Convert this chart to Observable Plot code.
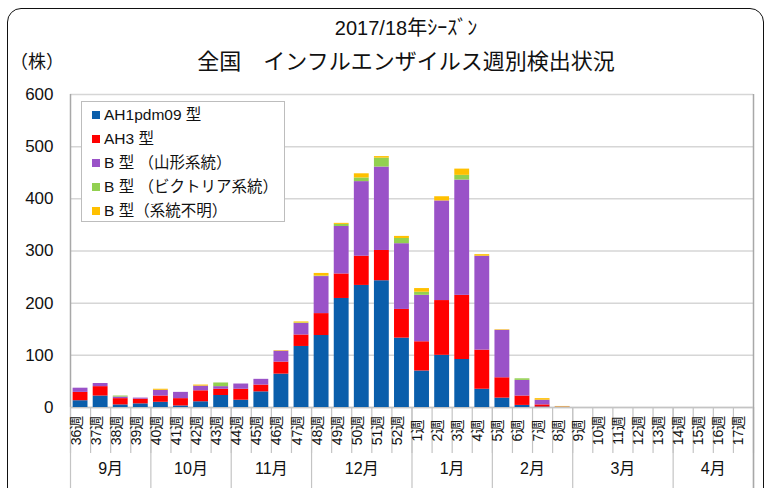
<!DOCTYPE html>
<html><head><meta charset="utf-8">
<script src="https://cdn.jsdelivr.net/npm/d3@7"></script>
<script src="https://cdn.jsdelivr.net/npm/@observablehq/plot@0.6"></script>
<style>
body{margin:0;background:#fff;}
#wrap{position:relative;width:769px;height:488px;overflow:hidden;font-family:"Liberation Sans",Arial,"Noto Sans CJK JP",sans-serif;color:#111;}
#frame{position:absolute;left:7px;top:8px;width:757px;height:540px;border:1.5px solid #111;border-radius:14px;box-sizing:border-box;}
#chart{position:absolute;left:0;top:0;}
.t{position:absolute;white-space:pre;}
#t1{left:106px;width:600px;text-align:center;top:14px;font-size:20px;line-height:28px;}
#t2{left:106px;width:600px;text-align:center;top:48px;font-size:22px;line-height:28px;}
#unit{left:10px;top:49px;font-size:18px;line-height:26px;}
#legend{position:absolute;left:81px;top:101px;width:204px;height:121px;background:#fff;border:1px solid #bdbdbd;box-sizing:border-box;}
.item{position:absolute;left:10px;height:20px;line-height:20px;font-size:15.5px;white-space:pre;}
.sw{display:inline-block;width:8px;height:8px;margin-right:4px;vertical-align:middle;position:relative;top:-1px;}
</style></head>
<body>
<div id="wrap">
  <div id="frame"></div>
  <div id="chart"></div>
  <div class="t" id="t1">2017/18年ｼｰｽﾞﾝ</div>
  <div class="t" id="t2">全国　インフルエンザイルス週別検出状況</div>
  <div class="t" id="unit">（株）</div>
  <div id="legend"></div>
</div>
<script>
const weeks = ["36週","37週","38週","39週","40週","41週","42週","43週","44週","45週","46週","47週","48週","49週","50週","51週","52週",
  "1週","2週","3週","4週","5週","6週","7週","8週","9週","10週","11週","12週","13週","14週","15週","16週","17週"];
const ah1  = [13,22,5,7,10,3,11,23,14,30,64,117,138,209,234,243,133, 70,100,92,35,18,4,1,0, 0,0,0,0,0,0,0,0,0];
const ah3  = [16,18,12,9,12,14,21,12,21,13,23,22,42,47,56,58,55, 56,105,123,75,39,18,4,0, 0,0,0,0,0,0,0,0,0];
const bYam = [8,6,3,2,11,12,9,5,10,11,21,22,71,91,143,160,126, 89,191,221,180,91,30,9,1, 0,0,0,0,0,0,0,0,0];
const bVic = [0,0,2,0,0,0,0,7,0,0,0,1,1,4,7,17,10, 6,0,9,0,0,3,0,0, 0,0,0,0,0,0,0,0,0];
const bUnk = [0,0,0,0,2,0,2,0,0,0,1,2,5,2,8,3,4, 7,8,12,3,1,0,3,1, 0,0,0,0,0,0,0,0,0];
const types = ["AH1pdm09 型","AH3 型","B 型 （山形系統）","B 型 （ビクトリア系統）","B 型（系統不明）"];
const colors = ["#0A5EAB","#FF0000","#9A52C8","#92D050","#FFC000"];
const months = ["9月","10月","11月","12月","1月","2月","3月","4月"];
const monthWeeks = [4,4,4,5,4,4,5,4];
const yTicks = [0,100,200,300,400,500,600];

const series = [ah1, ah3, bYam, bVic, bUnk];
const data = weeks.flatMap((w, i) => types.map((t, k) => ({i, week: w, type: t, value: series[k][i]})));
let s = 0;
const monthRows = months.map((m, k) => { const r = {month: m, start: s, end: s + monthWeeks[k]}; s += monthWeeks[k]; return r; });
const weekBounds = d3.range(weeks.length + 1).map(j => j - 0.5);
const monthBounds = [-0.5, ...monthRows.map(r => r.end - 0.5)];

const plot = Plot.plot({
  width: 769, height: 488,
  marginTop: 94, marginBottom: 81, marginLeft: 70, marginRight: 16,
  style: {background: "transparent", fontFamily: '"Liberation Sans", Arial, "Noto Sans CJK JP", sans-serif', fontSize: "17px", color: "#111", overflow: "visible"},
  x: {type: "linear", domain: [-0.5, weeks.length - 0.5], axis: null},
  y: {domain: [0, 600], axis: null},
  color: {domain: types, range: colors},
  marks: [
    Plot.gridY(yTicks, {stroke: "#d6d6d6", strokeOpacity: 1, strokeWidth: 1.5}),
    Plot.axisY(yTicks, {tickSize: 0, tickPadding: 17, fontSize: 17, fill: "#111", label: null}),
    Plot.ruleX(weekBounds, {x: d => d, insetTop: 313, insetBottom: -46, stroke: "#c4c4c4", strokeWidth: 1.2}),
    Plot.ruleX(monthBounds, {x: d => d, insetTop: 313, insetBottom: -81, stroke: "#c4c4c4", strokeWidth: 1.2}),
    Plot.ruleX([-0.5], {stroke: "#a8a8a8", strokeWidth: 1.5}),
    Plot.ruleX([weeks.length - 0.5], {stroke: "#a8a8a8", strokeWidth: 1.5, insetBottom: -81}),
    Plot.ruleY([0], {stroke: "#c4c4c4", strokeWidth: 1.5}),
    Plot.rectY(data, Plot.stackY({x1: d => d.i - 0.37, x2: d => d.i + 0.37, y: "value", fill: "type", order: types})),
    Plot.text(weeks, {x: (d, i) => i, text: d => d, frameAnchor: "bottom", dy: 23, rotate: -90, fontSize: 14, fill: "#111"}),
    Plot.text(monthRows, {x: d => (d.start + d.end - 1) / 2, text: "month", frameAnchor: "bottom", dy: 66, fontSize: 16, fill: "#111"})
  ]
});
document.getElementById("chart").appendChild(plot);

const lg = document.getElementById("legend");
types.forEach((t, k) => {
  const it = document.createElement("div");
  it.className = "item";
  it.style.top = (3 + k * 24) + "px";
  const sw = document.createElement("span");
  sw.className = "sw";
  sw.style.background = colors[k];
  it.appendChild(sw);
  it.appendChild(document.createTextNode(t));
  lg.appendChild(it);
});
</script>
</body></html>
